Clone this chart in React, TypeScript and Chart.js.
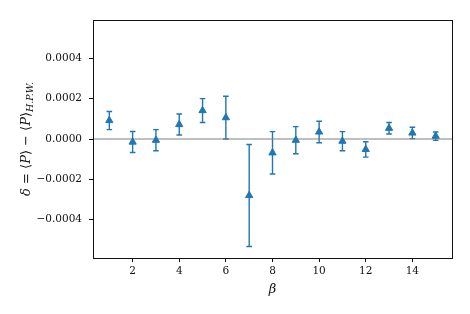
import React, { useEffect, useRef } from "react";
import { Chart, registerables } from "chart.js";

Chart.register(...registerables);

const betas = [1, 2, 3, 4, 5, 6, 7, 8, 9, 10, 11, 12, 13, 14, 15];
const delta = [
  0.0000917, -0.000015, -0.000006, 0.0000717, 0.000141, 0.000106, -0.00028,
  -0.0000683, -0.000006, 0.000035, -0.0000108, -0.0000517, 0.0000533, 0.00003,
  0.0000142,
];
const errors = [
  0.000045, 0.000052, 0.0000525, 0.000052, 0.000059, 0.000106, 0.000253,
  0.000105, 0.0000675, 0.0000533, 0.0000475, 0.0000383, 0.0000283, 0.0000283,
  0.0000208,
];
const xTicks = [2, 4, 6, 8, 10, 12, 14];
const yTicks = [-0.0004, -0.0002, 0, 0.0002, 0.0004];
const xTitle = "β";

const BLUE = "#1f77b4";
const FONT = "'DejaVu Serif', 'DejaVu Sans', serif";

const errorBarPlugin = {
  id: "errorBars",
  beforeDatasetsDraw(chart: any) {
    const { ctx, scales } = chart;
    const xs = scales.x;
    const ys = scales.y;
    ctx.save();
    ctx.strokeStyle = BLUE;
    ctx.lineWidth = 1.4;
    betas.forEach((b, i) => {
      const px = xs.getPixelForValue(b);
      const top = ys.getPixelForValue(delta[i] + errors[i]);
      const bot = ys.getPixelForValue(delta[i] - errors[i]);
      ctx.beginPath();
      ctx.moveTo(px, top);
      ctx.lineTo(px, bot);
      ctx.moveTo(px - 2.8, top);
      ctx.lineTo(px + 2.8, top);
      ctx.moveTo(px - 2.8, bot);
      ctx.lineTo(px + 2.8, bot);
      ctx.stroke();
    });
    ctx.restore();
  },
};

const framePlugin = {
  id: "frame",
  beforeDatasetsDraw(chart: any) {
    const { ctx, chartArea, scales } = chart;
    const y0 = scales.y.getPixelForValue(0);
    ctx.save();
    ctx.strokeStyle = "#808080";
    ctx.lineWidth = 1.2;
    ctx.beginPath();
    ctx.moveTo(chartArea.left, y0);
    ctx.lineTo(chartArea.right, y0);
    ctx.stroke();
    ctx.restore();
  },
  afterDraw(chart: any) {
    const { ctx, chartArea } = chart;
    ctx.save();
    ctx.strokeStyle = "#111";
    ctx.lineWidth = 1;
    ctx.strokeRect(
      Math.round(chartArea.left) + 0.5,
      Math.round(chartArea.top) + 0.5,
      Math.round(chartArea.right - chartArea.left),
      Math.round(chartArea.bottom - chartArea.top)
    );
    // x title
    ctx.fillStyle = "#111";
    ctx.textAlign = "center";
    ctx.textBaseline = "middle";
    ctx.font = `italic 13px ${FONT}`;
    ctx.fillText(xTitle, (chartArea.left + chartArea.right) / 2, 290);
    // y title with subscript
    const segs = [
      { t: "δ", f: `italic 13px ${FONT}`, dy: 0 },
      { t: " = ", f: `13px ${FONT}`, dy: 0 },
      { t: "⟨", f: `13px ${FONT}`, dy: 0 },
      { t: "P", f: `italic 13px ${FONT}`, dy: 0 },
      { t: "⟩", f: `13px ${FONT}`, dy: 0 },
      { t: " − ", f: `13px ${FONT}`, dy: 0 },
      { t: "⟨", f: `13px ${FONT}`, dy: 0 },
      { t: "P", f: `italic 13px ${FONT}`, dy: 0 },
      { t: "⟩", f: `13px ${FONT}`, dy: 0 },
      { t: "H.P.W.", f: `italic 9.5px ${FONT}`, dy: 3.5 },
    ];
    let total = 0;
    const widths = segs.map((s) => {
      ctx.font = s.f;
      const w = ctx.measureText(s.t).width;
      total += w;
      return w;
    });
    ctx.translate(27, (chartArea.top + chartArea.bottom) / 2);
    ctx.rotate(-Math.PI / 2);
    ctx.textAlign = "left";
    ctx.textBaseline = "middle";
    let x = -total / 2;
    segs.forEach((s, i) => {
      ctx.font = s.f;
      ctx.fillText(s.t, x, s.dy);
      x += widths[i];
    });
    ctx.restore();
  },
};

export default function App() {
  const ref = useRef<HTMLCanvasElement>(null);
  useEffect(() => {
    document.body.style.margin = "0";
    const canvas = ref.current!;
    const chart = new Chart(canvas, {
      type: "scatter",
      data: {
        datasets: [
          {
            data: betas.map((b, i) => ({ x: b, y: delta[i] })),
            pointStyle: "triangle",
            radius: 4.2,
            backgroundColor: BLUE,
            borderColor: BLUE,
            borderWidth: 1,
          },
        ],
      },
      options: {
        animation: false,
        responsive: false,
        devicePixelRatio: 1,
        layout: { padding: { left: 0, right: 18, top: 20, bottom: 0 } },
        plugins: {
          legend: { display: false },
          tooltip: { enabled: false },
        },
        scales: {
          x: {
            type: "linear",
            min: 0.3,
            max: 15.7,
            afterFit: (s: any) => {
              s.height = 56;
            },
            afterBuildTicks: (s: any) => {
              s.ticks = xTicks.map((v) => ({ value: v }));
            },
            grid: {
              drawOnChartArea: false,
              drawTicks: true,
              tickLength: 4,
              tickColor: "#111",
            },
            border: { display: true, color: "#111" },
            ticks: {
              color: "#111",
              font: { family: FONT, size: 10.5 },
              padding: 3,
              maxRotation: 0,
              callback: (v: any) => String(v),
            },
          },
          y: {
            type: "linear",
            min: -0.00059,
            max: 0.00059,
            afterFit: (s: any) => {
              s.width = 93;
            },
            afterBuildTicks: (s: any) => {
              s.ticks = yTicks.map((v) => ({ value: v }));
            },
            grid: {
              drawOnChartArea: false,
              drawTicks: true,
              tickLength: 4,
              tickColor: "#111",
            },
            border: { display: true, color: "#111" },
            ticks: {
              color: "#111",
              font: { family: FONT, size: 10.5 },
              padding: 7,
              callback: (v: any) => {
                const n = Number(v);
                const s = Math.abs(n).toFixed(4);
                return n < -1e-12 ? "−" + s : s;
              },
            },
          },
        },
      },
      plugins: [errorBarPlugin, framePlugin],
    });
    return () => chart.destroy();
  }, []);
  return <canvas ref={ref} width={470} height={314} />;
}
